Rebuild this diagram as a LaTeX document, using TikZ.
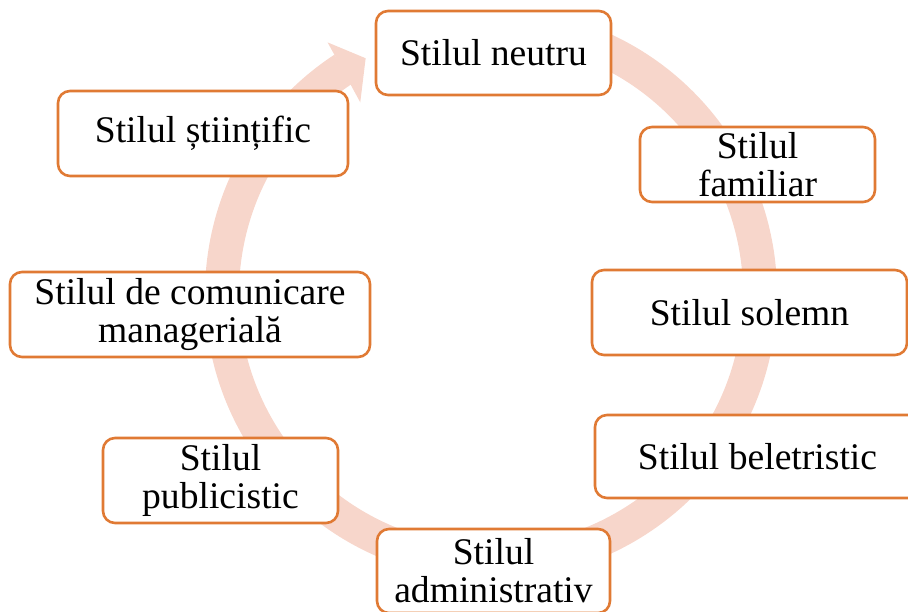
\documentclass[tikz,border=0pt]{standalone}
\usepackage{fontspec}
\setmainfont{Liberation Serif}
\definecolor{boxline}{RGB}{224,122,52}
\definecolor{ringfill}{RGB}{247,214,203}
\begin{document}
\begin{tikzpicture}[x=1pt, y=-1pt, font=\fontsize{37.6}{38}\selectfont,
  stil/.style={draw=boxline,line width=2.6pt,rounded corners=12pt,fill=white,align=center,inner sep=0pt},
  ring/.style={draw=ringfill,line width=34pt}]
\clip (0,0) rectangle (908,612);
% The ring runs clockwise behind the boxes and ends in an arrow at the top.
\coordinate (mid) at (491,294);
\draw[ring] ([shift={(-80:269)}]mid) arc[start angle=-80, end angle=236.8, radius=269];
\fill[ringfill] ([shift={(237:300)}]mid) -- ([shift={(242:267)}]mid) -- ([shift={(235.7:232)}]mid) -- cycle;

\node[stil,minimum width=235,minimum height=84] (neutru) at (493.5,53) {Stilul neutru};
\node[stil,minimum width=235,minimum height=75] (familiar) at (757.5,164.5) {Stilul\\familiar};
\node[stil,minimum width=315,minimum height=85] (solemn) at (749.5,312.5) {Stilul solemn};
\node[stil,minimum width=325,minimum height=83] (beletristic) at (757.5,456.5) {Stilul beletristic};
\node[stil,minimum width=233,minimum height=84] (administrativ) at (493.5,571) {Stilul\\administrativ};
\node[stil,minimum width=235,minimum height=85] (publicistic) at (220.5,480.5) {Stilul\\publicistic};
\node[stil,minimum width=360,minimum height=85] (comunicare) at (190,314.5) {Stilul de comunicare\\managerială};
\node[stil,minimum width=290,minimum height=85] (stiintific) at (203,133.5) {Stilul științific};
\end{tikzpicture}
\end{document}
